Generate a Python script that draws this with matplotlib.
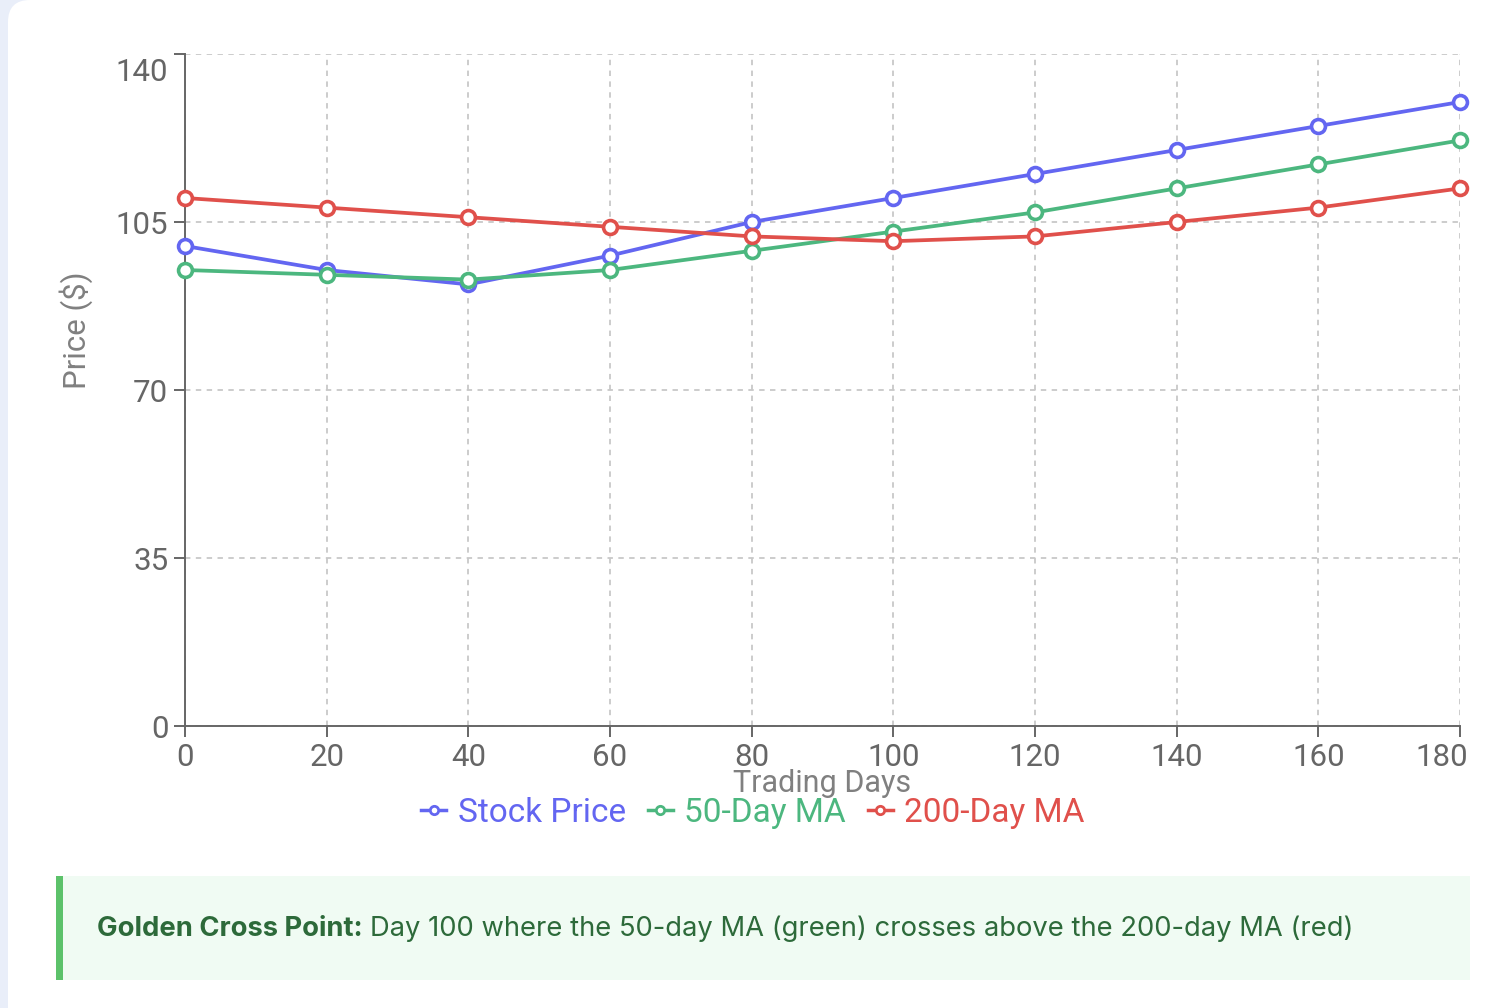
import matplotlib
matplotlib.use("Agg")
import matplotlib.pyplot as plt
from matplotlib.lines import Line2D
from matplotlib.patches import FancyBboxPatch, Rectangle
from matplotlib.transforms import IdentityTransform, ScaledTranslation

# data
days = [0, 20, 40, 60, 80, 100, 120, 140, 160, 180]
stock_price = [100, 95, 92, 98, 105, 110, 115, 120, 125, 130]
ma_50 = [95, 94, 93, 95, 99, 103, 107, 112, 117, 122]
ma_200 = [110, 108, 106, 104, 102, 101, 102, 105, 108, 112]
y_ticks = [0, 35, 70, 105, 140]
x_ticks = [0, 20, 40, 60, 80, 100, 120, 140, 160, 180]

series_names = ["Stock Price", "50-Day MA", "200-Day MA"]
series_colors = ["#6366f1", "#4cb77f", "#e0504b"]

W, H = 1501, 1008
fig = plt.figure(figsize=(W / 100, H / 100), dpi=100)
fig.patch.set_facecolor("#e9eef9")

# white card with rounded corner on the left
card = FancyBboxPatch((8, -40), W + 40, H + 40, boxstyle="round,pad=0,rounding_size=22",
                      transform=IdentityTransform(), facecolor="white", edgecolor="none", zorder=-10)
fig.patches.append(card)

ax = fig.add_axes([185 / W, 1 - 726 / H, 1275 / W, 672 / H])
ax.set_facecolor("none")
ax.set_zorder(5)

for values, name, color in zip([stock_price, ma_50, ma_200], series_names, series_colors):
    ax.plot(days, values, color=color, lw=2.7, marker="o", ms=10, mfc="white",
            mec=color, mew=2.6, label=name, zorder=3, clip_on=False)

ax.set_xlim(0, 180)
ax.set_ylim(0, 140)
ax.set_xticks(x_ticks)
ax.set_yticks(y_ticks)
ax.grid(True, color="#c8c8c8", lw=1.3, linestyle=(0, (3, 3)))
ax.set_axisbelow(True)

for side in ["top", "right"]:
    ax.spines[side].set_visible(False)
for side in ["left", "bottom"]:
    ax.spines[side].set_color("#666666")
    ax.spines[side].set_linewidth(1.4)

ax.tick_params(length=8, width=1.4, color="#666666", labelcolor="#666666",
               labelsize=22.5, pad=4)
for lab in ax.get_xticklabels() + ax.get_yticklabels():
    lab.set_fontfamily("Roboto")

# the outermost labels sit inside the plot edge, as in the reference
top_label = ax.get_yticklabels()[-1]
top_label.set_verticalalignment("top")
top_label.set_transform(top_label.get_transform() + ScaledTranslation(0, -4 / 100, fig.dpi_scale_trans))
last_x = ax.get_xticklabels()[-1]
last_x.set_horizontalalignment("right")
last_x.set_transform(last_x.get_transform() + ScaledTranslation(8 / 100, 0, fig.dpi_scale_trans))

ax.set_xlabel("Trading Days", fontsize=22, color="#808080", family="Roboto")
ax.xaxis.set_label_coords(0.5, -0.086)
ax.xaxis.label.set_verticalalignment("center")
ax.set_ylabel("Price ($)", fontsize=22.5, color="#808080", family="Roboto")
ax.yaxis.set_label_coords(-0.085, 0.589)
ax.yaxis.label.set_verticalalignment("center")

handles = [Line2D([0], [0], color=c, lw=2.5, marker="o", ms=6, mfc="white", mec=c, mew=2)
           for c in series_colors]
leg = fig.legend(handles, series_names, loc="center", bbox_to_anchor=(753 / W, 1 - 813 / H),
                 ncol=3, frameon=False, handlelength=0.75, handletextpad=0.35,
                 columnspacing=0.65, prop={"family": "Roboto", "size": 24},
                 labelcolor=series_colors)

# note box below the chart
fig.patches.append(Rectangle((56, H - 980), 1414, 104, transform=IdentityTransform(),
                             facecolor="#f0fbf3", edgecolor="none", zorder=1))
fig.patches.append(Rectangle((56, H - 980), 7, 104, transform=IdentityTransform(),
                             facecolor="#5cc26a", edgecolor="none", zorder=2))

renderer = fig.canvas.get_renderer()
bold = fig.text(97 / W, 1 - 929 / H, "Golden Cross Point:", fontsize=19.7, weight="bold",
                color="#2d6a3a", family="Inter", va="center", ha="left")
bb = bold.get_window_extent(renderer)
fig.text((bb.x1 + 7) / W, 1 - 929 / H,
         "Day 100 where the 50-day MA (green) crosses above the 200-day MA (red)",
         fontsize=19.7, color="#2d6a3a", family="Inter", va="center", ha="left")

fig.savefig("out.png", dpi=100, facecolor=fig.get_facecolor())
